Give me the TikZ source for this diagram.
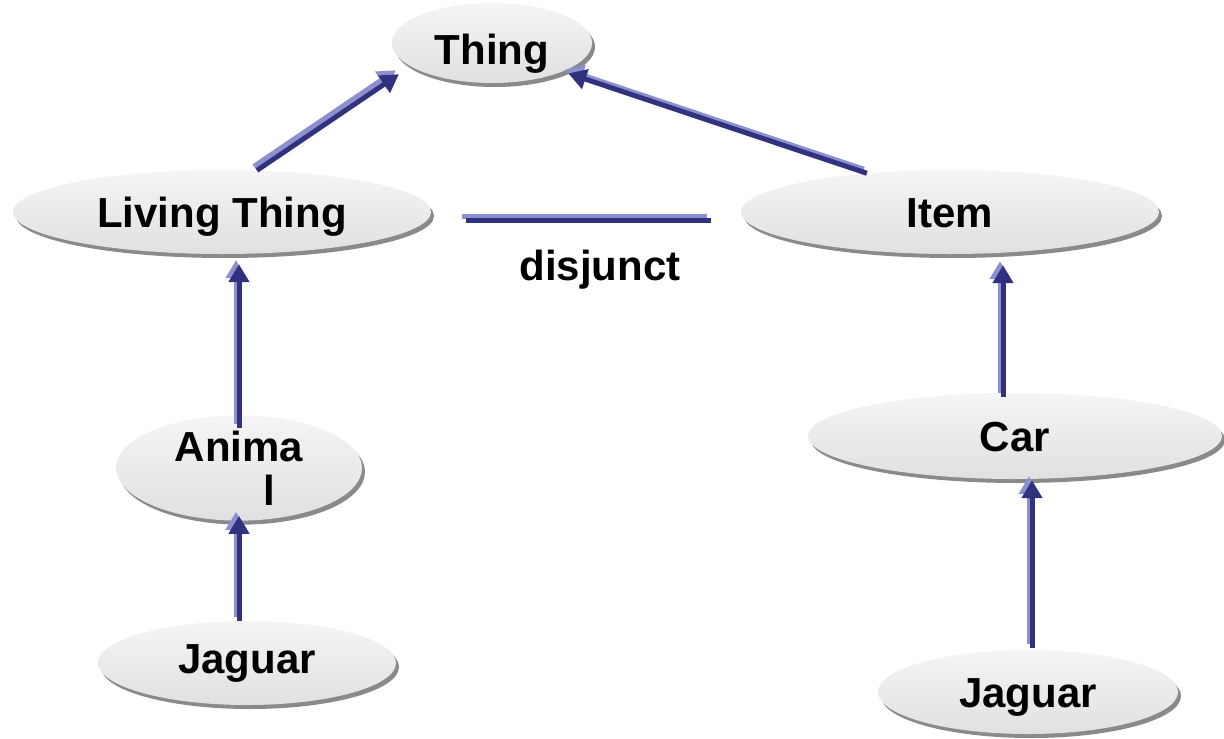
\documentclass[tikz,border=0pt]{standalone}
\usepackage{fontspec}
\setmainfont{Liberation Sans}
\usetikzlibrary{shapes.geometric,arrows.meta,shadows,calc}
\definecolor{arrowdark}{RGB}{48,50,128}
\definecolor{arrowlight}{RGB}{140,144,206}
\definecolor{shadowgray}{RGB}{138,138,138}
\begin{document}
\begin{tikzpicture}[x=1pt,y=-1pt,
  concept/.style={ellipse, inner sep=0pt, draw=none,
    top color=black!4, bottom color=black!12,
    drop shadow={shadow xshift=3pt, shadow yshift=-4pt, fill=shadowgray, opacity=1},
    font=\bfseries\fontsize{42}{44}\selectfont, text height=30pt, text depth=0pt},
  tip/.style={-{Triangle[length=18pt,width=20pt]}},
  link/.style={draw=arrowdark, line width=5pt,
    preaction={draw=arrowlight, line width=5pt, transform canvas={shift={(-4pt,4pt)}}}},
  conn/.style={draw=arrowdark, line width=5pt, tip,
    preaction={draw=arrowlight, line width=5pt, tip, transform canvas={shift={(-3pt,4pt)}}}},
  caption/.style={font=\bfseries\fontsize{42}{44}\selectfont, anchor=base, inner sep=0pt}]

\fill[white] (0,0) rectangle (1224,739);
\useasboundingbox (0,0) rectangle (1224,739);

% concepts
\node[concept, minimum width=200pt, minimum height=80pt, text height=42pt] (thing) at (492,43) {Thing};
\node[concept, minimum width=418pt, minimum height=84pt] (living) at (222,212) {Living Thing};
\node[concept, minimum width=418pt, minimum height=84pt] (item) at (950,212) {Item};
\node[concept, minimum width=246pt, minimum height=84pt, align=center,
      text height={}, text depth={}] (animal) at (239,468) {Anima\\\hspace*{61pt}l};
\node[concept, minimum width=414pt, minimum height=86pt] (car) at (1015,436) {Car};
\node[concept, minimum width=298pt, minimum height=84pt, text height=20pt] (jagL) at (247,663) {Jaguar};
\node[concept, minimum width=300pt, minimum height=84pt] (jagR) at (1028,692) {Jaguar};

% subclass arrows
\draw[conn, shorten >=14pt] (living.50) -- (thing.196);
\draw[conn, shorten >=6pt] (item.155) -- (thing.338);
\draw[conn, shorten <=-13pt, shorten >=10pt] (animal.north) -- (animal.north |- living.south);
\draw[conn, shorten >=-5pt] (animal.south |- jagL.north) -- (animal.south);
\coordinate (carTop) at ($(car.north)+(-12,4)$);
\draw[conn, shorten >=11pt] (carTop) -- (carTop |- item.south);
\coordinate (jagTop) at ($(jagR.north)+(4,-2)$);
\draw[conn, shorten >=1pt] (jagTop) -- (jagTop |- car.south);

% disjointness
\coordinate (djA) at (466,220.5);
\coordinate (djB) at (711,220.5);
\draw[link] (djA) -- (djB);
\node[caption] (djLabel) at (600,280) {disjunct};
\end{tikzpicture}
\end{document}
